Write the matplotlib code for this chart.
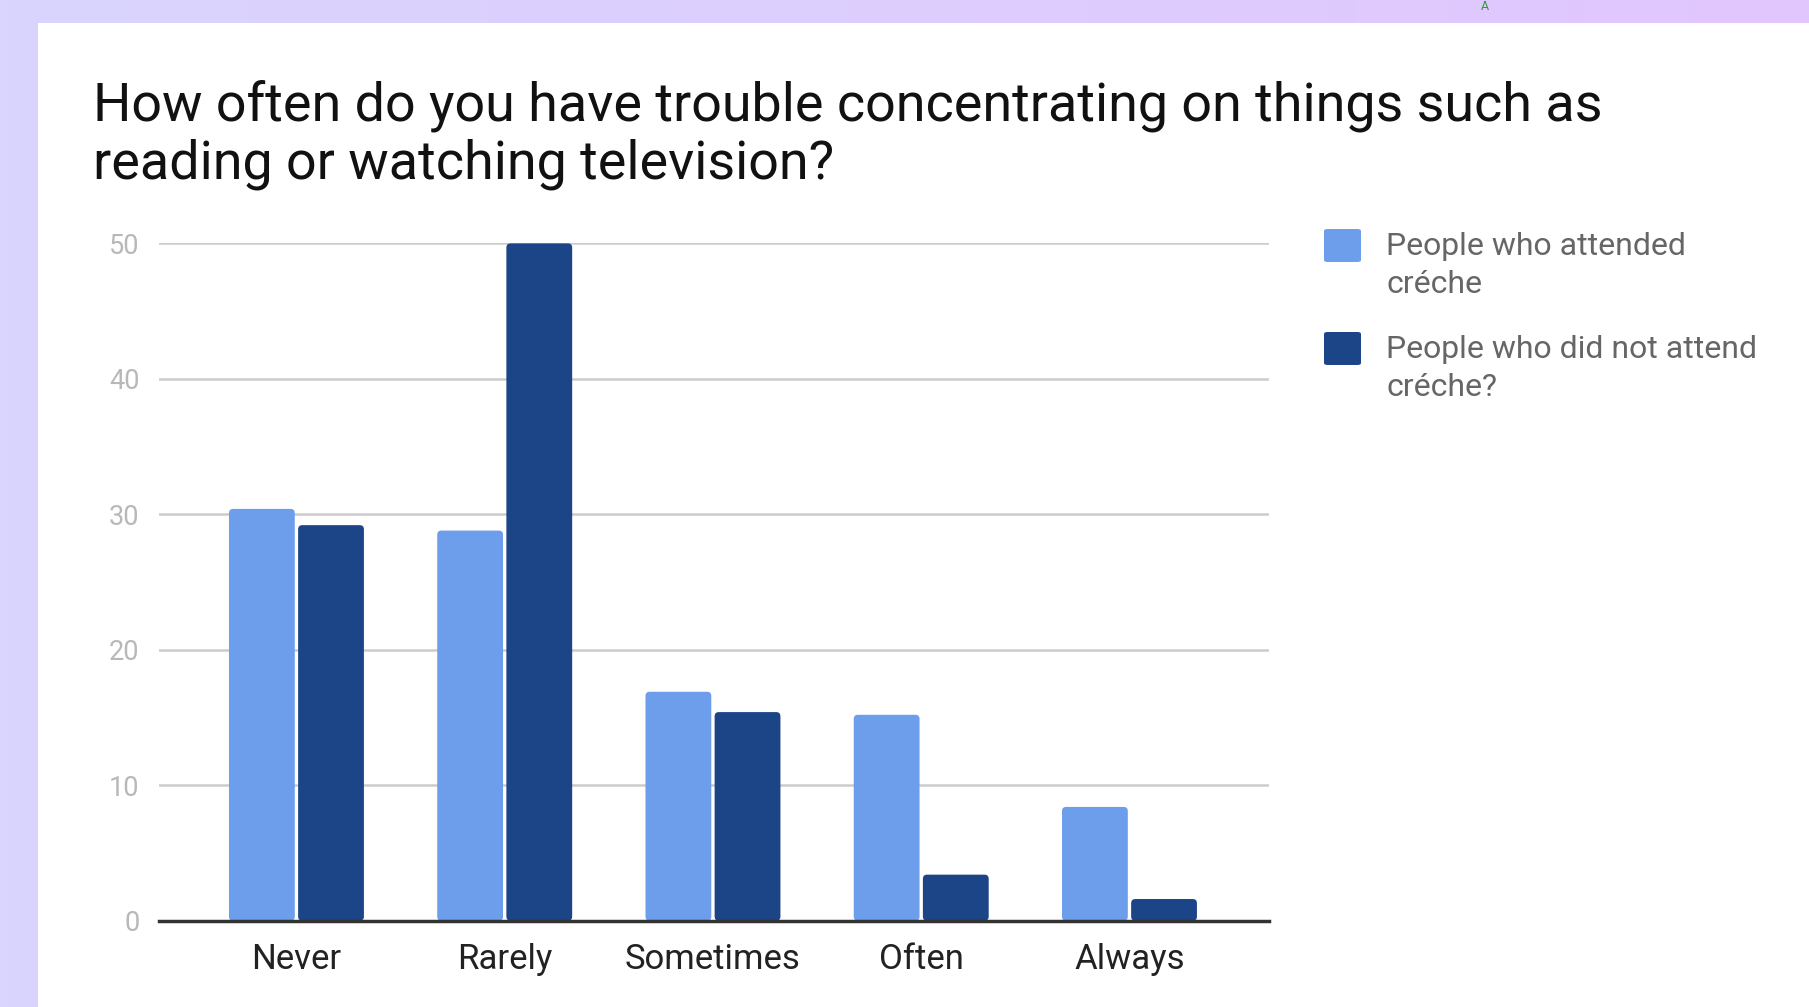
import matplotlib

matplotlib.use("Agg")
import matplotlib.pyplot as plt
import numpy as np
from matplotlib.patches import FancyBboxPatch, Rectangle

categories = ["Never", "Rarely", "Sometimes", "Often", "Always"]
attended = [30.4, 28.8, 16.9, 15.2, 8.4]
not_attended = [29.2, 50.0, 15.4, 3.4, 1.6]
series_names = ["People who attended\ncréche", "People who did not attend\ncréche?"]
y_ticks = [0, 10, 20, 30, 40, 50]
title = "How often do you have trouble concentrating on things such as\nreading or watching television?"

LIGHT = "#6d9eeb"
DARK = "#1c4587"
W, H = 1809, 1007

plt.rcParams["font.family"] = ["Roboto", "DejaVu Sans"]

fig = plt.figure(figsize=(W / 100, H / 100), dpi=100)

# lavender gradient frame around a white slide
bg = fig.add_axes([0, 0, 1, 1], zorder=-10)
grad = np.linspace(0, 1, 256).reshape(1, -1)
cmap = matplotlib.colors.LinearSegmentedColormap.from_list("bg", ["#d9d5fe", "#e1c6fd"])
bg.imshow(grad, aspect="auto", cmap=cmap, extent=[0, 1, 0, 1])
bg.add_patch(Rectangle((38 / W, 0), 1, 1 - 23 / H, color="white", lw=0))
bg.set_xlim(0, 1)
bg.set_ylim(0, 1)
bg.axis("off")
bg.text(1485 / W, 1 - 7 / H, "A", color="#2e9e2e", fontsize=9, ha="center", va="center")

ax = fig.add_axes([159 / W, 1 - 920.7 / H, (1269 - 159) / W, (920.7 - 243.4) / H])
x = np.arange(len(categories))
off, bw = 0.166, 0.316


def rounded_bars(xs, vals, color):
    for xi, v in zip(xs, vals):
        ax.add_patch(FancyBboxPatch((xi - bw / 2, 0), bw, v,
                                    boxstyle="round,pad=0,rounding_size=0.02",
                                    mutation_aspect=50 / 677 * 1110 / 5.33,
                                    fc=color, ec="none", zorder=3, clip_on=False))


rounded_bars(x - off, attended, LIGHT)
rounded_bars(x + off, not_attended, DARK)

ax.set_xlim(-0.66, 4.67)
ax.set_ylim(0, 50)
ax.set_yticks(y_ticks)
ax.set_xticks(x)
ax.set_xticklabels(categories, fontsize=25, color="#222222")
ax.tick_params(axis="y", length=0, pad=14, labelsize=19.5, labelcolor="#b8b8b8")
ax.tick_params(axis="x", length=0, pad=16)
ax.grid(axis="y", color="#cccccc", lw=1.8, zorder=0)
for side in ["top", "right", "left"]:
    ax.spines[side].set_visible(False)
ax.spines["bottom"].set_color("#333333")
ax.spines["bottom"].set_linewidth(2.5)
ax.spines["bottom"].set_zorder(4)

for k, line in enumerate(title.split("\n")):
    fig.text(93 / W, 1 - (120 + k * 58) / H, line, fontsize=38.8, color="#111111",
             va="baseline", ha="left")

for i, (name, color) in enumerate(zip(series_names, [LIGHT, DARK])):
    top = 229 + i * 103
    fig.add_artist(FancyBboxPatch((1324 / W, 1 - (top + 33) / H), 37 / W, 33 / H,
                                  boxstyle="round,pad=0,rounding_size=0.002",
                                  transform=fig.transFigure, fc=color, ec="none"))
    for k, line in enumerate(name.split("\n")):
        fig.text(1386 / W, 1 - (255 + i * 103 + k * 38) / H, line, fontsize=23,
                 color="#666666", va="baseline", ha="left")

fig.savefig("out.png", dpi=100)
